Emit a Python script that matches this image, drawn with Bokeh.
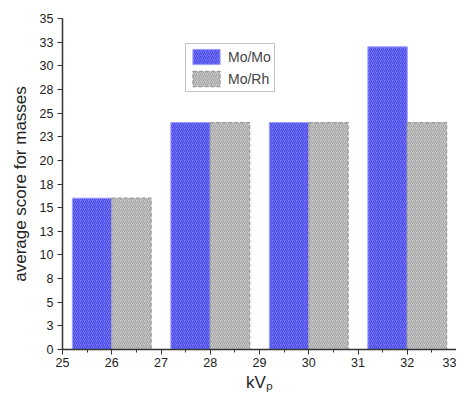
from bokeh.plotting import figure
from bokeh.models import ColumnDataSource, SingleIntervalTicker, Range1d
from bokeh.transform import dodge
from bokeh.embed import file_html
from bokeh.resources import INLINE

kvp = [26, 28, 30, 32]
mo_mo = [16, 24, 24, 32]
mo_rh = [16, 24, 24, 24]
y_tick_values = [0, 2.5, 5, 7.5, 10, 12.5, 15, 17.5, 20, 22.5, 25, 27.5, 30, 32.5, 35]
y_tick_labels = ["0", "3", "5", "8", "10", "13", "15", "18", "20", "23", "25", "28", "30", "33", "35"]

src = ColumnDataSource(dict(kvp=kvp, mo_mo=mo_mo, mo_rh=mo_rh))

p = figure(width=456, height=394, output_backend="svg", toolbar_location=None,
           x_range=Range1d(25, 33), y_range=Range1d(0, 35),
           min_border_left=62, min_border_right=0, min_border_top=18, min_border_bottom=0)
p.outline_line_color = None
p.xgrid.visible = False
p.ygrid.visible = False

p.vbar(x=dodge('kvp', -0.4), top='mo_mo', width=0.8, bottom=0, source=src,
       fill_color="#7474ff", line_color="#a0a0ff", line_width=1,
       hatch_pattern="/", hatch_color="#4646dc", hatch_scale=4, hatch_weight=1,
       legend_label="Mo/Mo")
p.vbar(x=dodge('kvp', 0.4), top='mo_rh', width=0.8, bottom=0, source=src,
       fill_color="#c8c8c8", line_color="#9a9a9a", line_width=1.2, line_dash="4 2",
       hatch_pattern="/", hatch_color="#a2a2a2", hatch_scale=4, hatch_weight=1,
       legend_label="Mo/Rh")

font = "Liberation Sans"
p.xaxis.ticker = SingleIntervalTicker(interval=1, num_minor_ticks=2)
p.yaxis.ticker = y_tick_values
p.yaxis.major_label_overrides = {v: l for v, l in zip(y_tick_values, y_tick_labels)}
for ax in (p.xaxis[0], p.yaxis[0]):
    ax.axis_line_color = "#333333"
    ax.axis_line_width = 1.5
    ax.major_tick_line_color = "#333333"
    ax.minor_tick_line_color = "#333333"
    ax.major_tick_in = 0
    ax.major_tick_out = 5
    ax.minor_tick_in = 0
    ax.minor_tick_out = 3
    ax.major_label_text_font = font
    ax.major_label_text_font_size = "12.5px"
    ax.major_label_text_color = "#222222"
    ax.axis_label_text_font = font
    ax.axis_label_text_font_size = "17px"
    ax.axis_label_text_font_style = "normal"
    ax.axis_label_text_color = "#222222"
p.yaxis.minor_tick_line_color = None
p.xaxis.axis_label = "kVₚ"
p.yaxis.axis_label = "average score for masses"
p.xaxis.major_label_standoff = 3
p.yaxis.major_label_standoff = 4
p.xaxis.axis_label_standoff = 3
p.yaxis.axis_label_standoff = 7

lg = p.legend[0]
lg.location = (123, 257)
lg.label_text_font = font
lg.label_text_font_size = "14px"
lg.glyph_width = 34
lg.glyph_height = 19
lg.label_height = 19
lg.spacing = 3
lg.padding = 3
lg.margin = 0
lg.border_line_color = "#888888"
lg.border_line_width = 1
lg.background_fill_alpha = 1

open("out.html", "w").write(file_html(p, INLINE))
